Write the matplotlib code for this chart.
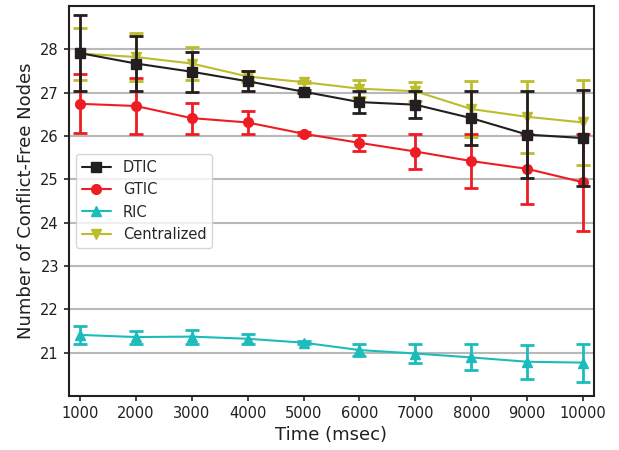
import numpy as np
import matplotlib.pyplot as plt
import seaborn as sns

times = [1000, 2000, 3000, 4000, 5000, 6000, 7000, 8000, 9000, 10000]

dtic = [27.91, 27.67, 27.48, 27.26, 27.02, 26.78, 26.72, 26.41, 26.03, 25.95]
dtic_err = [0.87, 0.63, 0.46, 0.23, 0.03, 0.25, 0.31, 0.63, 1.0, 1.1]

gtic = [26.74, 26.69, 26.41, 26.31, 26.05, 25.84, 25.64, 25.42, 25.24, 24.93]
gtic_err = [0.68, 0.64, 0.36, 0.26, 0.03, 0.19, 0.4, 0.62, 0.8, 1.12]

ric = [21.41, 21.36, 21.37, 21.32, 21.23, 21.06, 20.98, 20.89, 20.79, 20.77]
ric_err = [0.21, 0.15, 0.16, 0.12, 0.03, 0.14, 0.21, 0.3, 0.39, 0.44]

central = [27.9, 27.82, 27.67, 27.37, 27.24, 27.09, 27.03, 26.62, 26.44, 26.31]
central_err = [0.6, 0.56, 0.38, 0.12, 0.03, 0.19, 0.22, 0.65, 0.83, 0.97]

sns.set_style("ticks")
plt.rcParams['font.family'] = ['DejaVu Sans']

fig = plt.figure(figsize=(6.19, 4.5), dpi=100)
ax = fig.add_axes([0.111, 0.12, 0.849, 0.867])

series = [
    (dtic, dtic_err, 'DTIC', '#231f20', 's', 5),
    (gtic, gtic_err, 'GTIC', '#ee1d23', 'o', 3),
    (ric, ric_err, 'RIC', '#1cbcbc', '^', 3),
    (central, central_err, 'Centralized', '#bcbd2c', 'v', 2),
]
handles = []
for vals, err, name, col, mk, z in series:
    eb = ax.errorbar(times, vals, yerr=err, label=name, color=col, marker=mk,
                     markersize=7, linewidth=1.5, elinewidth=2, capsize=5,
                     capthick=2, zorder=z)
    handles.append(eb[0])

ax.set_xlim(800, 10200)
ax.set_ylim(20.0, 29.0)
ax.set_xticks(times)
ax.set_yticks([21, 22, 23, 24, 25, 26, 27, 28])
ax.yaxis.grid(True, color='#b8b8b8', linewidth=1.5)
ax.set_axisbelow(True)
for s in ax.spines.values():
    s.set_color('#231f20')
    s.set_linewidth(1.5)
ax.tick_params(labelsize=10.5, colors='#231f20', width=1.2)
ax.set_xlabel('Time (msec)', fontsize=13, color='#231f20')
ax.set_ylabel('Number of Conflict-Free Nodes', fontsize=13, color='#231f20')
ax.legend(handles, [s[2] for s in series], loc='center left', fontsize=10.5,
          frameon=True)

fig.savefig('out.png', dpi=100)
